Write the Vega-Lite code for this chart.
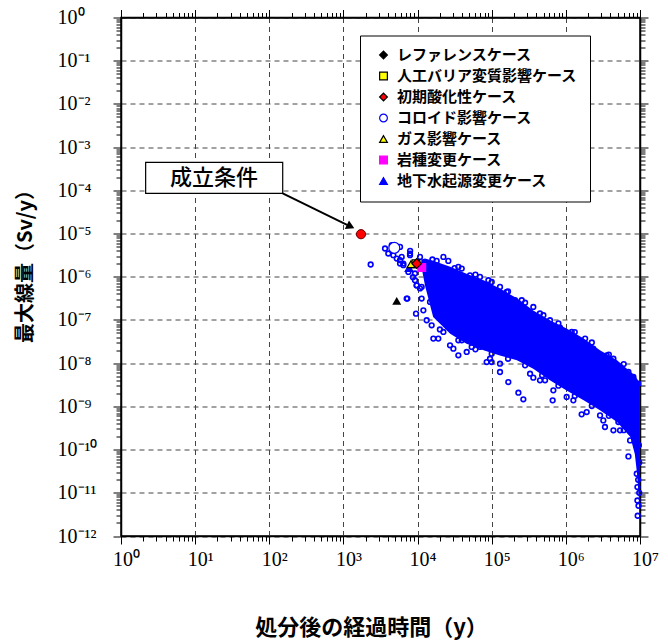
{
  "$schema": "https://vega.github.io/schema/vega-lite/v6.json",
  "width": 519,
  "height": 518.5,
  "autosize": {"type": "none"},
  "padding": {"left": 121, "top": 17.5, "right": 28, "bottom": 108},
  "background": "white",
  "datasets": {
    "core": [
      {"t": 1.122e4, "hi": 2.512e-6, "lo": 1.778e-6},
      {"t": 1.259e4, "hi": 2.630e-6, "lo": 6.310e-7},
      {"t": 1.622e4, "hi": 2.344e-6, "lo": 1.175e-7},
      {"t": 2.754e4, "hi": 1.698e-6, "lo": 4.786e-8},
      {"t": 4.571e4, "hi": 1.175e-6, "lo": 2.818e-8},
      {"t": 7.762e4, "hi": 8.318e-7, "lo": 1.995e-8},
      {"t": 1.288e5, "hi": 5.370e-7, "lo": 1.514e-8},
      {"t": 2.188e5, "hi": 3.162e-7, "lo": 1.175e-8},
      {"t": 3.631e5, "hi": 1.660e-7, "lo": 7.413e-9},
      {"t": 6.166e5, "hi": 9.772e-8, "lo": 3.981e-9},
      {"t": 1.023e6, "hi": 6.310e-8, "lo": 2.344e-9},
      {"t": 1.738e6, "hi": 3.715e-8, "lo": 1.380e-9},
      {"t": 2.884e6, "hi": 1.995e-8, "lo": 8.128e-10},
      {"t": 4.898e6, "hi": 1.175e-8, "lo": 4.365e-10},
      {"t": 7.413e6, "hi": 6.310e-9, "lo": 1.950e-10},
      {"t": 8.511e6, "hi": 5.248e-9, "lo": 7.943e-11},
      {"t": 9.120e6, "hi": 4.365e-9, "lo": 2.754e-11},
      {"t": 9.550e6, "hi": 3.802e-9, "lo": 9.550e-12},
      {"t": 9.886e6, "hi": 3.548e-9, "lo": 3.981e-12}
    ],
    "cloud": [
      {"t": 5.80e3, "dose": 4.91e-6}, {"t": 5.80e3, "dose": 2.42e-6}, {"t": 6.43e3, "dose": 2.02e-6},
      {"t": 7.91e3, "dose": 3.15e-6}, {"t": 7.52e3, "dose": 1.29e-6}, {"t": 9.23e3, "dose": 1.19e-6},
      {"t": 9.73e3, "dose": 6.35e-7}, {"t": 1.135e4, "dose": 5.82e-7}, {"t": 7.13e3, "dose": 3.13e-7},
      {"t": 9.53e3, "dose": 1.40e-7}, {"t": 1.135e4, "dose": 3.13e-7}, {"t": 1.197e4, "dose": 1.67e-7},
      {"t": 1.327e4, "dose": 9.84e-8}, {"t": 1.549e4, "dose": 7.53e-8}, {"t": 1.472e4, "dose": 2.62e-7},
      {"t": 1.633e4, "dose": 3.70e-8}, {"t": 1.905e4, "dose": 3.70e-8}, {"t": 2.23e4, "dose": 5.27e-8},
      {"t": 2.74e4, "dose": 2.59e-8}, {"t": 3.04e4, "dose": 2.17e-8}, {"t": 3.55e4, "dose": 1.52e-8},
      {"t": 3.94e4, "dose": 3.38e-8}, {"t": 4.60e4, "dose": 1.82e-8}, {"t": 5.37e4, "dose": 2.37e-8},
      {"t": 6.95e4, "dose": 2.37e-8}, {"t": 8.55e4, "dose": 1.06e-8}, {"t": 9.98e4, "dose": 1.06e-8},
      {"t": 9.48e4, "dose": 1.27e-8}, {"t": 1.294e5, "dose": 9.72e-9}, {"t": 1.294e5, "dose": 6.25e-9},
      {"t": 1.675e5, "dose": 3.66e-9}, {"t": 2.29e5, "dose": 2.07e-9}, {"t": 2.67e5, "dose": 1.46e-9},
      {"t": 3.29e5, "dose": 5.71e-9}, {"t": 3.64e5, "dose": 4.62e-9}, {"t": 4.48e5, "dose": 4.01e-9},
      {"t": 5.24e5, "dose": 4.01e-9}, {"t": 6.78e5, "dose": 2.35e-9}, {"t": 6.64e5, "dose": 1.38e-9},
      {"t": 1.026e6, "dose": 1.65e-9}, {"t": 1.262e6, "dose": 1.38e-9}, {"t": 1.633e6, "dose": 6.53e-10},
      {"t": 1.91e6, "dose": 7.40e-10}, {"t": 2.89e6, "dose": 6.19e-10}, {"t": 3.20e6, "dose": 4.74e-10},
      {"t": 3.37e6, "dose": 3.33e-10}, {"t": 4.38e6, "dose": 2.79e-10}, {"t": 5.11e6, "dose": 4.35e-10},
      {"t": 5.38e6, "dose": 2.79e-10}, {"t": 7.35e6, "dose": 1.63e-10}, {"t": 6.98e6, "dose": 6.95e-11},
      {"t": 8.15e6, "dose": 3.33e-10}, {"t": 9.04e6, "dose": 2.76e-11}, {"t": 9.23e6, "dose": 1.36e-11},
      {"t": 9.23e6, "dose": 6.65e-12}, {"t": 9.31e6, "dose": 2.94e-12}, {"t": 2.23e4, "dose": 2.88e-6},
      {"t": 3.55e4, "dose": 1.69e-6}, {"t": 3.94e4, "dose": 1.55e-6}, {"t": 5.09e4, "dose": 1.08e-6},
      {"t": 6.95e4, "dose": 9.93e-7}, {"t": 9.02e4, "dose": 8.30e-7}, {"t": 1.294e5, "dose": 5.82e-7},
      {"t": 1.592e5, "dose": 4.46e-7}, {"t": 2.06e5, "dose": 2.86e-7}, {"t": 2.54e5, "dose": 2.86e-7},
      {"t": 3.64e5, "dose": 2.00e-7}, {"t": 4.98e5, "dose": 1.29e-7}, {"t": 6.11e5, "dose": 9.84e-8},
      {"t": 8.34e5, "dose": 6.65e-8}, {"t": 1.20e6, "dose": 5.27e-8}, {"t": 1.82e6, "dose": 3.70e-8},
      {"t": 2.34e6, "dose": 2.17e-8}, {"t": 3.56e6, "dose": 1.52e-8}, {"t": 4.38e6, "dose": 1.27e-8},
      {"t": 5.38e6, "dose": 8.17e-9}, {"t": 6.98e6, "dose": 6.25e-9}, {"t": 8.15e6, "dose": 4.79e-9},
      {"t": 9.51e6, "dose": 3.36e-9}, {"t": 1.81e4, "dose": 2.33e-6}, {"t": 2.60e4, "dose": 2.33e-6},
      {"t": 1.079e4, "dose": 2.88e-6}, {"t": 7.91e3, "dose": 3.44e-6}, {"t": 3.64e3, "dose": 4.51e-6},
      {"t": 4.48e3, "dose": 5.37e-6}, {"t": 4.03e3, "dose": 3.45e-6}, {"t": 4.71e3, "dose": 3.15e-6},
      {"t": 5.24e3, "dose": 2.64e-6}, {"t": 5.80e3, "dose": 2.02e-6}, {"t": 6.11e3, "dose": 2.88e-6},
      {"t": 6.43e3, "dose": 1.85e-6}, {"t": 7.94e3, "dose": 3.98e-6}, {"t": 2.33e3, "dose": 1.92e-6},
      {"t": 7.28e3, "dose": 3.13e-7}, {"t": 8.67e3, "dose": 9.77e-7}, {"t": 9.23e3, "dose": 8.32e-7},
      {"t": 9.73e3, "dose": 6.31e-7}, {"t": 1.079e4, "dose": 5.37e-7},
      {"t": 1.585e4, "dose": 2.51e-6}, {"t": 3.16e4, "dose": 1.585e-6}, {"t": 6.03e4, "dose": 1.12e-6},
      {"t": 1.0e5, "dose": 7.59e-7}, {"t": 1.66e5, "dose": 4.57e-7}, {"t": 2.82e5, "dose": 2.51e-7},
      {"t": 4.47e5, "dose": 1.41e-7}, {"t": 7.94e5, "dose": 8.32e-8}, {"t": 1.318e6, "dose": 5.25e-8},
      {"t": 2.24e6, "dose": 3.02e-8}, {"t": 3.80e6, "dose": 1.585e-8}, {"t": 6.03e6, "dose": 9.55e-9},
      {"t": 2.0e4, "dose": 6.03e-8}, {"t": 3.55e4, "dose": 3.39e-8}, {"t": 6.03e4, "dose": 2.09e-8},
      {"t": 1.0e5, "dose": 1.66e-8}, {"t": 1.66e5, "dose": 1.26e-8}, {"t": 2.82e5, "dose": 8.91e-9},
      {"t": 4.79e5, "dose": 5.25e-9}, {"t": 7.94e5, "dose": 3.02e-9}, {"t": 1.318e6, "dose": 1.74e-9},
      {"t": 2.24e6, "dose": 1.02e-9}, {"t": 3.80e6, "dose": 6.03e-10}, {"t": 6.03e6, "dose": 2.82e-10},
      {"t": 9.66e6, "dose": 1.26e-10}, {"t": 9.77e6, "dose": 5.01e-11}, {"t": 9.44e6, "dose": 2.0e-11},
      {"t": 9.77e6, "dose": 1.0e-11}, {"t": 9.55e6, "dose": 5.01e-12}
    ],
    "cases": [
      {"case": "地下水起源変更ケース", "t": 7.67e3, "dose": 1.585e-6},
      {"case": "レファレンスケース", "t": 9.73e3, "dose": 2.02e-6},
      {"case": "人工バリア変質影響ケース", "t": 9.5e3, "dose": 2.0e-6},
      {"case": "岩種変更ケース", "t": 1.138e4, "dose": 1.64e-6},
      {"case": "ガス影響ケース", "t": 8.15e3, "dose": 1.95e-6},
      {"case": "コロイド影響ケース", "t": 4.855e3, "dose": 4.65e-6},
      {"case": "初期酸化性ケース", "t": 9.73e3, "dose": 2.02e-6}
    ],
    "condition": [
      {"label": "成立条件", "t": 1.726e3, "dose": 9.66e-6}
    ],
    "other": [
      {"t": 5.236e3, "dose": 2.75e-7}
    ]
  },
  "layer": [
    {
      "data": {"name": "core"},
      "mark": {"type": "area", "color": "#0000ff", "opacity": 1},
      "encoding": {
        "x": {
          "field": "t", "type": "quantitative",
          "scale": {"type": "log", "domain": [1, 10000000], "nice": false},
          "axis": {
            "orient": "bottom",
            "values": [1,2,3,4,5,6,7,8,9,10,20,30,40,50,60,70,80,90,100,200,300,400,500,600,700,800,900,1000,2000,3000,4000,5000,6000,7000,8000,9000,10000,20000,30000,40000,50000,60000,70000,80000,90000,100000,200000,300000,400000,500000,600000,700000,800000,900000,1000000,2000000,3000000,4000000,5000000,6000000,7000000,8000000,9000000,10000000],
            "labelExpr": "abs(log(datum.value)/LN10 - round(log(datum.value)/LN10)) < 0.001 ? '10' + (round(log(datum.value)/LN10) < 0 ? '⁻' : '') + ['⁰','¹','²','³','⁴','⁵','⁶','⁷','⁸','⁹','¹⁰','¹¹','¹²'][abs(round(log(datum.value)/LN10))] : ''",
            "tickSize": {"condition": {"test": "abs(log(datum.value)/LN10 - round(log(datum.value)/LN10)) < 0.001", "value": 8}, "value": 5},
            "gridOpacity": {"condition": {"test": "abs(log(datum.value)/LN10 - round(log(datum.value)/LN10)) < 0.001", "value": 1}, "value": 0},
            "grid": true, "gridDash": [5, 4], "gridColor": "#444444", "gridWidth": 1,
            "domainColor": "black", "domainWidth": 1.5, "tickColor": "black", "tickWidth": 1,
            "labelFont": "Liberation Serif", "labelFontSize": 20, "labelColor": "black",
            "labelAlign": "center", "labelOffset": 5, "labelPadding": 5, "labelFlush": false, "labelOverlap": false, "labelBound": false,
            "title": "処分後の経過時間（y）", "titleFont": "Noto Sans CJK JP", "titleFontSize": 22, "titleFontWeight": "bold",
            "titleColor": "black", "titleX": 250, "titleY": 91, "titleAlign": "center", "titleBaseline": "middle"
          }
        },
        "y": {
          "field": "hi", "type": "quantitative",
          "scale": {"type": "log", "domain": [1e-12, 1], "nice": false},
          "axis": {
            "orient": "left",
            "values": [1e-12,2e-12,3e-12,4e-12,5e-12,6e-12,7e-12,8e-12,9e-12,1e-11,2e-11,3e-11,4e-11,5e-11,6e-11,7e-11,8e-11,9e-11,1e-10,2e-10,3e-10,4e-10,5e-10,6e-10,7e-10,8e-10,9e-10,1e-9,2e-9,3e-9,4e-9,5e-9,6e-9,7e-9,8e-9,9e-9,1e-8,2e-8,3e-8,4e-8,5e-8,6e-8,7e-8,8e-8,9e-8,1e-7,2e-7,3e-7,4e-7,5e-7,6e-7,7e-7,8e-7,9e-7,1e-6,2e-6,3e-6,4e-6,5e-6,6e-6,7e-6,8e-6,9e-6,1e-5,2e-5,3e-5,4e-5,5e-5,6e-5,7e-5,8e-5,9e-5,1e-4,2e-4,3e-4,4e-4,5e-4,6e-4,7e-4,8e-4,9e-4,1e-3,2e-3,3e-3,4e-3,5e-3,6e-3,7e-3,8e-3,9e-3,1e-2,2e-2,3e-2,4e-2,5e-2,6e-2,7e-2,8e-2,9e-2,0.1,0.2,0.3,0.4,0.5,0.6,0.7,0.8,0.9,1],
            "labelExpr": "abs(log(datum.value)/LN10 - round(log(datum.value)/LN10)) < 0.001 ? '10' + (round(log(datum.value)/LN10) < 0 ? '⁻' : '') + ['⁰','¹','²','³','⁴','⁵','⁶','⁷','⁸','⁹','¹⁰','¹¹','¹²'][abs(round(log(datum.value)/LN10))] : ''",
            "tickSize": {"condition": {"test": "abs(log(datum.value)/LN10 - round(log(datum.value)/LN10)) < 0.001", "value": 8}, "value": 5},
            "gridOpacity": {"condition": {"test": "abs(log(datum.value)/LN10 - round(log(datum.value)/LN10)) < 0.001", "value": 1}, "value": 0},
            "grid": true, "gridDash": [5, 4], "gridColor": "#444444", "gridWidth": 1,
            "domainColor": "black", "domainWidth": 1.5, "tickColor": "black", "tickWidth": 1,
            "labelFont": "Liberation Serif", "labelFontSize": 20, "labelColor": "black",
            "labelAlign": "left", "labelBaseline": "middle", "labelPadding": 56, "labelFlush": false, "labelOverlap": false, "labelBound": false,
            "title": "最大線量（Sv/y）", "titleFont": "Noto Sans CJK JP", "titleFontSize": 20, "titleFontWeight": "bold",
            "titleColor": "black", "titleX": -96, "titleY": 243.5, "titleAngle": -90, "titleAlign": "center", "titleBaseline": "middle"
          }
        },
        "y2": {"field": "lo"}
      }
    },
    {
      "data": {"name": "cloud"},
      "mark": {"type": "point", "shape": "circle", "filled": false, "color": "#0000ff", "strokeWidth": 1.6, "size": 22, "opacity": 1},
      "encoding": {
        "x": {
          "field": "t", "type": "quantitative",
          "axis": {
            "orient": "top",
            "values": [1,2,3,4,5,6,7,8,9,10,20,30,40,50,60,70,80,90,100,200,300,400,500,600,700,800,900,1000,2000,3000,4000,5000,6000,7000,8000,9000,10000,20000,30000,40000,50000,60000,70000,80000,90000,100000,200000,300000,400000,500000,600000,700000,800000,900000,1000000,2000000,3000000,4000000,5000000,6000000,7000000,8000000,9000000,10000000],
            "labels": false, "grid": false, "title": null,
            "tickSize": {"condition": {"test": "abs(log(datum.value)/LN10 - round(log(datum.value)/LN10)) < 0.001", "value": 8}, "value": 5},
            "domainColor": "black", "domainWidth": 1.5, "tickColor": "black", "tickWidth": 1
          }
        },
        "y": {
          "field": "dose", "type": "quantitative",
          "axis": {
            "orient": "right",
            "values": [1e-12,2e-12,3e-12,4e-12,5e-12,6e-12,7e-12,8e-12,9e-12,1e-11,2e-11,3e-11,4e-11,5e-11,6e-11,7e-11,8e-11,9e-11,1e-10,2e-10,3e-10,4e-10,5e-10,6e-10,7e-10,8e-10,9e-10,1e-9,2e-9,3e-9,4e-9,5e-9,6e-9,7e-9,8e-9,9e-9,1e-8,2e-8,3e-8,4e-8,5e-8,6e-8,7e-8,8e-8,9e-8,1e-7,2e-7,3e-7,4e-7,5e-7,6e-7,7e-7,8e-7,9e-7,1e-6,2e-6,3e-6,4e-6,5e-6,6e-6,7e-6,8e-6,9e-6,1e-5,2e-5,3e-5,4e-5,5e-5,6e-5,7e-5,8e-5,9e-5,1e-4,2e-4,3e-4,4e-4,5e-4,6e-4,7e-4,8e-4,9e-4,1e-3,2e-3,3e-3,4e-3,5e-3,6e-3,7e-3,8e-3,9e-3,1e-2,2e-2,3e-2,4e-2,5e-2,6e-2,7e-2,8e-2,9e-2,0.1,0.2,0.3,0.4,0.5,0.6,0.7,0.8,0.9,1],
            "labels": false, "grid": false, "title": null,
            "tickSize": {"condition": {"test": "abs(log(datum.value)/LN10 - round(log(datum.value)/LN10)) < 0.001", "value": 8}, "value": 5},
            "domainColor": "black", "domainWidth": 1.5, "tickColor": "black", "tickWidth": 1
          }
        }
      }
    },
    {
      "data": {"name": "condition"},
      "mark": {"type": "rect", "fill": "white", "stroke": "black", "strokeWidth": 1.2},
      "encoding": {
        "x": {"datum": 2.15, "type": "quantitative", "axis": null},
        "x2": {"datum": 151.7},
        "y": {"datum": 4.42e-4, "type": "quantitative", "axis": null},
        "y2": {"datum": 8.47e-5}
      }
    },
    {
      "data": {"name": "condition"},
      "mark": {"type": "text", "font": "Noto Sans CJK JP", "fontSize": 22, "fontWeight": 500, "color": "black", "align": "center", "baseline": "middle"},
      "encoding": {
        "x": {"datum": 17.96, "type": "quantitative", "axis": null},
        "y": {"datum": 1.91e-4, "type": "quantitative", "axis": null},
        "text": {"field": "label"}
      }
    },
    {
      "data": {"name": "condition"},
      "mark": {"type": "rule", "color": "black", "strokeWidth": 2},
      "encoding": {
        "x": {"datum": 151.7, "type": "quantitative", "axis": null},
        "y": {"datum": 8.47e-5, "type": "quantitative", "axis": null},
        "x2": {"datum": 1250},
        "y2": {"datum": 1.45e-5}
      }
    },
    {
      "data": {"name": "condition"},
      "mark": {"type": "point", "shape": "triangle-up", "filled": true, "color": "black", "size": 90, "angle": 116, "opacity": 1},
      "encoding": {
        "x": {"datum": 1250, "type": "quantitative", "axis": null},
        "y": {"datum": 1.45e-5, "type": "quantitative", "axis": null}
      }
    },
    {
      "data": {"name": "condition"},
      "mark": {"type": "point", "shape": "circle", "filled": true, "fill": "#ff0000", "stroke": "#660000", "strokeWidth": 1, "size": 85, "opacity": 1},
      "encoding": {
        "x": {"field": "t", "type": "quantitative", "axis": null},
        "y": {"field": "dose", "type": "quantitative", "axis": null}
      }
    },
    {
      "data": {"name": "other"},
      "mark": {"type": "point", "shape": "triangle-up", "filled": true, "color": "black", "size": 80, "opacity": 1},
      "encoding": {
        "x": {"field": "t", "type": "quantitative", "axis": null},
        "y": {"field": "dose", "type": "quantitative", "axis": null}
      }
    },
    {
      "data": {"name": "cases"},
      "mark": {"type": "point", "filled": true, "strokeWidth": 1.2, "opacity": 1},
      "encoding": {
        "x": {"field": "t", "type": "quantitative", "axis": null},
        "y": {"field": "dose", "type": "quantitative", "axis": null},
        "shape": {
          "field": "case", "type": "nominal",
          "scale": {"domain": ["レファレンスケース", "人工バリア変質影響ケース", "初期酸化性ケース", "コロイド影響ケース", "ガス影響ケース", "岩種変更ケース", "地下水起源変更ケース"],
                    "range": ["diamond", "square", "diamond", "circle", "triangle-up", "square", "triangle-up"]},
          "legend": {"title": null, "orient": "none", "legendX": 239, "legendY": 18}
        },
        "fill": {
          "field": "case", "type": "nominal",
          "scale": {"domain": ["レファレンスケース", "人工バリア変質影響ケース", "初期酸化性ケース", "コロイド影響ケース", "ガス影響ケース", "岩種変更ケース", "地下水起源変更ケース"],
                    "range": ["#000000", "#ffff00", "#ff0000", "#ffffff", "#ffff00", "#ff00ff", "#0000ff"]},
          "legend": {"title": null, "orient": "none", "legendX": 239, "legendY": 18}
        },
        "stroke": {
          "field": "case", "type": "nominal",
          "scale": {"domain": ["レファレンスケース", "人工バリア変質影響ケース", "初期酸化性ケース", "コロイド影響ケース", "ガス影響ケース", "岩種変更ケース", "地下水起源変更ケース"],
                    "range": ["#000000", "#000000", "#000000", "#0000ff", "#000000", "#ff00ff", "#0000ff"]},
          "legend": {"title": null, "orient": "none", "legendX": 239, "legendY": 18}
        },
        "size": {
          "condition": [
            {"test": "datum['case'] === '初期酸化性ケース'", "value": 95},
            {"test": "datum['case'] === 'コロイド影響ケース'", "value": 120}
          ],
          "value": 60
        }
      }
    }
  ],
  "resolve": {"axis": {"x": "independent", "y": "independent"}},
  "config": {
    "view": {"stroke": "black", "strokeWidth": 1.5},
    "legend": {
      "padding": 12, "rowPadding": 5, "strokeColor": "black", "fillColor": "white",
      "labelFont": "Noto Sans CJK JP", "labelFontSize": 15, "labelFontWeight": "bold", "labelColor": "black",
      "labelLimit": 400, "symbolOffset": 4, "labelOffset": 6, "symbolStrokeWidth": 1.2, "symbolSize": 60
    }
  }
}
